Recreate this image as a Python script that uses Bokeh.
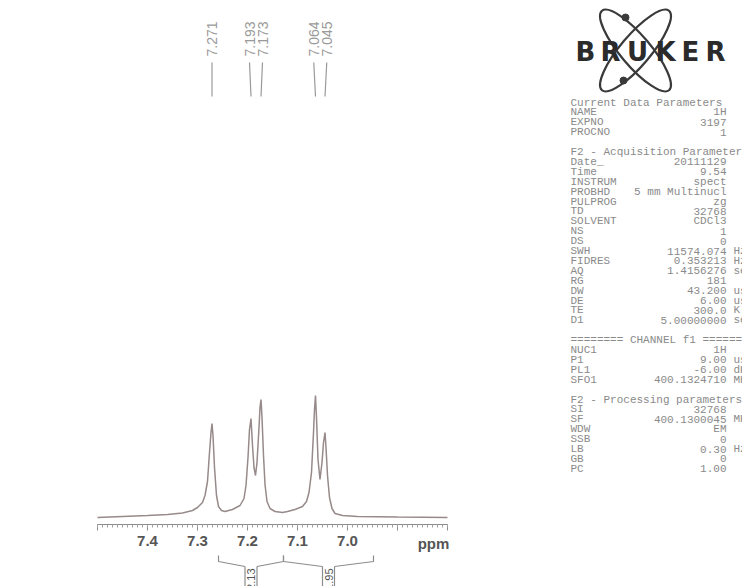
import math
from bokeh.plotting import figure
from bokeh.models import Range1d, LinearAxis, FixedTicker
from bokeh.embed import file_html
from bokeh.resources import INLINE
from bokeh.core.properties import value

# ---------------- data ----------------
spectrum_ppm = [7.500, 7.450, 7.400, 7.360, 7.330, 7.310, 7.300, 7.290, 7.285, 7.280,
                7.276, 7.273, 7.271, 7.269, 7.266, 7.262, 7.258, 7.252, 7.245, 7.230,
                7.215, 7.207, 7.203, 7.199, 7.196, 7.193, 7.190, 7.187, 7.184, 7.181,
                7.177, 7.175, 7.173, 7.171, 7.168, 7.165, 7.161, 7.155, 7.145, 7.130,
                7.120, 7.105, 7.090, 7.082, 7.077, 7.072, 7.068, 7.066, 7.064, 7.062,
                7.059, 7.055, 7.051, 7.048, 7.045, 7.043, 7.040, 7.036, 7.031, 7.025,
                7.010, 6.980, 6.900, 6.800]
spectrum_int = [0.0, 1.0, 2.0, 3.0, 4.5, 7.0, 10.0, 15.0, 22.0, 36.0,
                65.0, 85.0, 94.0, 82.0, 50.0, 22.0, 11.0, 7.0, 6.0, 8.0,
                12.0, 19.0, 32.0, 60.0, 88.0, 99.0, 72.0, 50.0, 42.0, 55.0,
                90.0, 110.0, 118.0, 100.0, 62.0, 33.0, 16.0, 9.0, 6.0, 5.0,
                6.0, 8.0, 11.0, 16.0, 25.0, 45.0, 85.0, 108.0, 122.0, 100.0,
                58.0, 38.0, 55.0, 75.0, 85.0, 70.0, 42.0, 20.0, 9.0, 4.0,
                2.0, 1.0, 0.5, 0.0]

peak_ppm = [7.271, 7.193, 7.173, 7.064, 7.045]
peak_labels = ["7.271", "7.193", "7.173", "7.064", "7.045"]

integral_start = [7.258, 7.128]
integral_end = [7.128, 6.948]
integral_values = ["2.13", "1.95"]

axis_ticks = [7.5, 7.4, 7.3, 7.2, 7.1, 7.0, 6.9, 6.8]
axis_tick_labels = ["", "7.4", "7.3", "7.2", "7.1", "7.0", "", ""]
axis_unit = "ppm"

brand = "BRUKER"

param_names = ["Current Data Parameters", "NAME", "EXPNO", "PROCNO", "",
               "F2 - Acquisition Parameters", "Date_", "Time", "INSTRUM", "PROBHD",
               "PULPROG", "TD", "SOLVENT", "NS", "DS", "SWH", "FIDRES", "AQ", "RG",
               "DW", "DE", "TE", "D1", "",
               "======== CHANNEL f1 ========", "NUC1", "P1", "PL1", "SFO1", "",
               "F2 - Processing parameters", "SI", "SF", "WDW", "SSB", "LB", "GB", "PC"]
param_values = ["", "1H", "3197", "1", "",
                "", "20111129", "9.54", "spect", "5 mm Multinucl",
                "zg", "32768", "CDCl3", "1", "0", "11574.074", "0.353213", "1.4156276", "181",
                "43.200", "6.00", "300.0", "5.00000000", "",
                "", "1H", "9.00", "-6.00", "400.1324710", "",
                "", "32768", "400.1300045", "EM", "0", "0.30", "0", "1.00"]
param_units = ["", "", "", "", "",
               "", "", "", "", "",
               "", "", "", "", "", "Hz", "Hz", "sec", "",
               "usec", "usec", "K", "sec", "",
               "", "", "usec", "dB", "MHz", "",
               "", "", "MHz", "", "", "Hz", "", ""]

# ---------------- layout helpers (page pixel -> data) ----------------
W, H = 742, 586
PPM_LEFT_PX = 97.0      # pixel column of 7.5 ppm
PX_PER_PPM = 500.0
BASE_PX = 517.0         # pixel row of zero intensity


def px(x):
    return 7.5 - (x - PPM_LEFT_PX) / PX_PER_PPM


def py(y):
    return BASE_PX - y


def dppm(n):
    return n / PX_PER_PPM


p = figure(width=W, height=H, output_backend="svg", toolbar_location=None,
           x_axis_type=None, y_axis_type=None, min_border=0,
           x_range=Range1d(px(0), px(W)), y_range=Range1d(py(H), py(0)))
p.outline_line_color = None
p.background_fill_color = "white"
p.border_fill_color = "white"

# ---------------- spectrum ----------------
p.line(spectrum_ppm, spectrum_int, line_color="#978a8a", line_width=1.5)

# ---------------- ppm axis ----------------
ax = LinearAxis(fixed_location=py(524), bounds=(min(axis_ticks), max(axis_ticks)),
                ticker=FixedTicker(ticks=axis_ticks,
                                   minor_ticks=[round(6.8 + 0.01 * i, 2) for i in range(71)]))
ax.major_label_overrides = {t: l for t, l in zip(axis_ticks, axis_tick_labels)}
ax.axis_line_color = "#8c8c8c"
ax.axis_line_width = 1.2
ax.major_tick_line_color = "#8c8c8c"
ax.minor_tick_line_color = "#a0a0a0"
ax.major_tick_in = 0
ax.major_tick_out = 6
ax.minor_tick_in = 0
ax.minor_tick_out = 3
ax.major_label_standoff = 5
ax.major_label_text_font = "Liberation Sans"
ax.major_label_text_font_size = "15px"
ax.major_label_text_font_style = "bold"
ax.major_label_text_color = "#555555"
p.add_layout(ax, "below")

p.text([px(433)], [py(543)], text=[axis_unit], text_font=value("Liberation Sans"),
       text_font_size="15px", text_font_style="bold", text_color="#555555",
       text_align="center", text_baseline="middle")

# ---------------- peak labels ----------------
min_gap = dppm(13)
label_pos = list(peak_ppm)
i = 0
while i < len(peak_ppm):
    j = i
    while j + 1 < len(peak_ppm) and peak_ppm[j] - peak_ppm[j + 1] < min_gap:
        j += 1
    n = j - i + 1
    if n > 1:
        c = sum(peak_ppm[i:j + 1]) / n
        for k in range(n):
            label_pos[i + k] = c + min_gap * ((n - 1) / 2 - k)
    i = j + 1

p.text(label_pos, [py(56)] * len(label_pos), text=peak_labels, angle=math.pi / 2,
       text_font=value("Liberation Sans"), text_font_size="14px", text_color="#9a9a9a",
       text_align="left", text_baseline="middle")
p.segment(x0=label_pos, y0=[py(62)] * len(label_pos), x1=peak_ppm, y1=[py(96)] * len(peak_ppm),
          line_color="#9a9a9a", line_width=1.2)

# ---------------- integrals ----------------
bxs, bys = [], []
lab_x = []
for s, e in zip(integral_start, integral_end):
    c = (s + e) / 2
    half = dppm(6)
    bxs += [[s, s, c + half], [c - half, e, e], [c + half, c + half], [c - half, c - half]]
    bys += [[py(555), py(561), py(566)], [py(566), py(561), py(555)],
            [py(566), py(590)], [py(566), py(590)]]
    lab_x.append(c)
p.multi_line(bxs, bys, line_color="#8c8c8c", line_width=1.2)
p.text(lab_x, [py(568)] * len(lab_x), text=integral_values, angle=math.pi / 2,
       text_font=value("Liberation Sans"), text_font_size="11px", text_color="#555555",
       text_align="right", text_baseline="middle")

# ---------------- Bruker logo ----------------
cx, cy = 635, 50
p.ellipse([px(cx), px(cx)], [py(cy), py(cy)], width=104, height=30,
          angle=[0.87, -0.87], width_units="screen", height_units="screen",
          fill_color=None, line_color="#3a3a3a", line_width=2.2)
p.scatter([px(625), px(623)], [py(17), py(80)], size=7, color="#3a3a3a")
letter_px = [585, 610, 637, 665, 690, 715]
p.text([px(x) for x in letter_px], [py(51)] * len(brand), text=list(brand),
       text_font=value("DejaVu Sans"), text_font_size="26px", text_font_style="bold",
       text_color="#2b2b2b", text_align="center", text_baseline="middle")

# ---------------- parameter block ----------------
top, step = 102.0, 9.9
rows_y = [py(top + k * step) for k in range(len(param_names))]
pfont = value("Liberation Mono")
pcol = "#8a8a8a"
p.text([px(570)] * len(param_names), rows_y, text=param_names, text_font=pfont,
       text_font_size="11px", text_color=pcol, text_align="left", text_baseline="middle")
p.text([px(726)] * len(param_values), rows_y, text=param_values, text_font=pfont,
       text_font_size="11px", text_color=pcol, text_align="right", text_baseline="middle")
p.text([px(733)] * len(param_units), rows_y, text=param_units, text_font=pfont,
       text_font_size="11px", text_color=pcol, text_align="left", text_baseline="middle")

open("out.html", "w").write(file_html(p, INLINE))
